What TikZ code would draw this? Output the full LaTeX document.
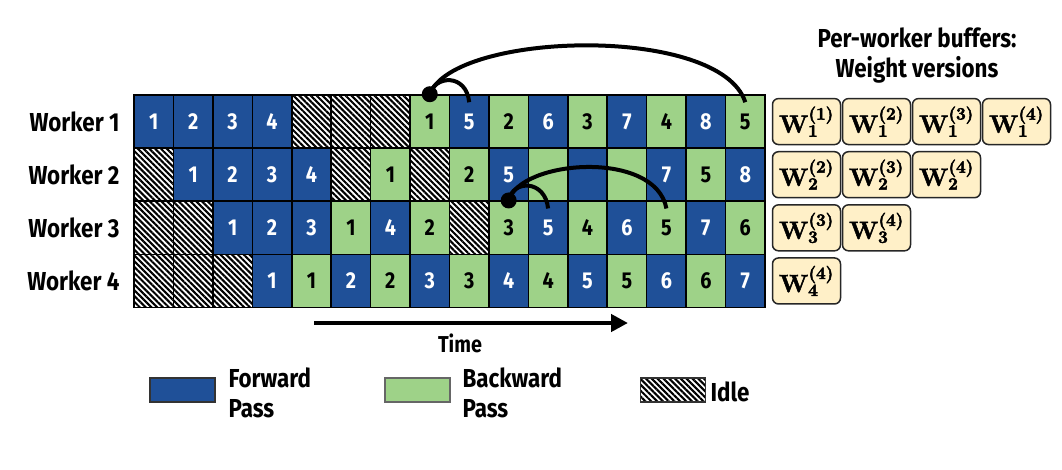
\documentclass[tikz,border=0pt]{standalone}
\usepackage[no-math]{fontspec}
\setmainfont{Fira Sans}[FakeStretch=0.86]
\usetikzlibrary{patterns.meta,arrows.meta,calc}
\definecolor{fwblue}{RGB}{31,80,152}
\definecolor{bwgreen}{RGB}{158,210,136}
\definecolor{bufcream}{RGB}{255,240,200}
\newcommand\cellrow[2]{%
  \foreach \k/\n [count=\c] in {#2} {%
    \node[cell,\k] (c#1-\c) at ({134+(\c-0.5)*39.4375},{95+(#1-0.5)*53.125}) {\n};%
  }%
}
\newcommand\heavytext[1]{\special{pdf:literal direct 2 Tr 0.5 w}#1\special{pdf:literal direct 0 Tr}}
\begin{document}
\begin{tikzpicture}[x=1pt,y=-1pt,
  cell/.style={draw=black, line width=1.6pt, minimum width=39.44pt, minimum height=53.1pt,
    inner sep=0pt, font=\fontsize{23}{26}\selectfont\bfseries},
  fw/.style={fill=fwblue, text=white},
  bw/.style={fill=bwgreen, text=black},
  idle/.style={pattern={Lines[angle=-45,distance=4.1pt,line width=2.1pt]}, pattern color=black},
  lbl/.style={font=\fontsize{26}{30}\selectfont\bfseries},
  buf/.style={draw=black!85, line width=1.5pt, fill=bufcream, rounded corners=6pt,
    minimum width=68pt, minimum height=46pt, inner sep=0pt,
    font=\fontsize{24}{24}\selectfont\boldmath},
  arcline/.style={line width=4pt, black},
  dot/.style={circle, fill=black, minimum size=16pt, inner sep=0pt},
  legbox/.style={draw=black!80, line width=1.3pt, minimum width=65pt, minimum height=24pt, inner sep=0pt},
]
\useasboundingbox[fill=white] (0,0) rectangle (1062,469);

% grid
\cellrow{1}{fw/1,fw/2,fw/3,fw/4,idle/{},idle/{},idle/{},bw/1,fw/5,bw/2,fw/6,bw/3,fw/7,bw/4,fw/8,bw/5}
\cellrow{2}{idle/{},fw/1,fw/2,fw/3,fw/4,idle/{},bw/1,idle/{},bw/2,fw/5,bw/{},fw/{},bw/{},fw/7,bw/5,fw/8}
\cellrow{3}{idle/{},idle/{},fw/1,fw/2,fw/3,bw/1,fw/4,bw/2,idle/{},bw/3,fw/5,bw/4,fw/6,bw/5,fw/7,bw/6}
\cellrow{4}{idle/{},idle/{},idle/{},fw/1,bw/1,fw/2,bw/2,fw/3,bw/3,fw/4,bw/4,fw/5,bw/5,fw/6,bw/6,fw/7}

% worker labels
\foreach \r in {1,...,4} {
  \node[lbl, anchor=east] (w\r) at ({123},{95+(\r-0.5)*53.125}) {Worker \r};
}

% arcs row 1
\node[dot] (d1) at (c1-8.north) {};
\coordinate (e1a) at ($(c1-9.north)+(0,8)$);
\coordinate (e1b) at ($(c1-16.north)+(0,8)$);
\draw[arcline] (d1.center) .. controls +(5,-19) and +(-3,-29) .. (e1a);
\draw[arcline] (d1.center) .. controls +(24,-63) and +(-25,-78) .. (e1b);

% arcs row 3
\node[dot] (d3) at (c3-10.north) {};
\coordinate (e3a) at ($(c3-11.north)+(0,8)$);
\coordinate (e3b) at ($(c3-14.north)+(0,8)$);
\draw[arcline] (d3.center) .. controls +(4,-21) and +(-3,-29) .. (e3a);
\draw[arcline] (d3.center) .. controls +(12,-41) and +(-11,-59) .. (e3b);

% buffers
\node[lbl, align=center] (title) at (917,56) {Per-worker buffers:\\Weight versions};
\foreach \r/\vlist in {1/{1,2,3,4},2/{2,3,4},3/{3,4},4/{4}} {
  \foreach \v [count=\j] in \vlist {
    \node[buf] (b\r-\j) at ({806.5+(\j-1)*70},{95+(\r-0.5)*53.125})
      {\heavytext{$\mathbf{W}_{\mathbf{\r}}^{(\mathbf{\v})}$}};
  }
}

% time arrow
\coordinate (ts) at (314,323);
\coordinate (te) at (628,323);
\draw[line width=4.5pt, -{Triangle[length=17pt,width=17pt]}] (ts) -- (te);
\node[font=\fontsize{23}{26}\selectfont\bfseries] (time) at (460,343) {Time};

% legend
\node[legbox, fill=fwblue] (lf) at (182.5,390) {};
\node[lbl, anchor=west, align=left] (lft) at (225,393) {Forward\\Pass};
\node[legbox, fill=bwgreen, draw=black!60] (lb) at (417.5,390) {};
\node[lbl, anchor=west, align=left] (lbt) at (459,393) {Backward\\Pass};
\node[legbox, idle] (li) at (673,390) {};
\node[lbl, anchor=west] (lit) at (707,392) {Idle};
\end{tikzpicture}
\end{document}
